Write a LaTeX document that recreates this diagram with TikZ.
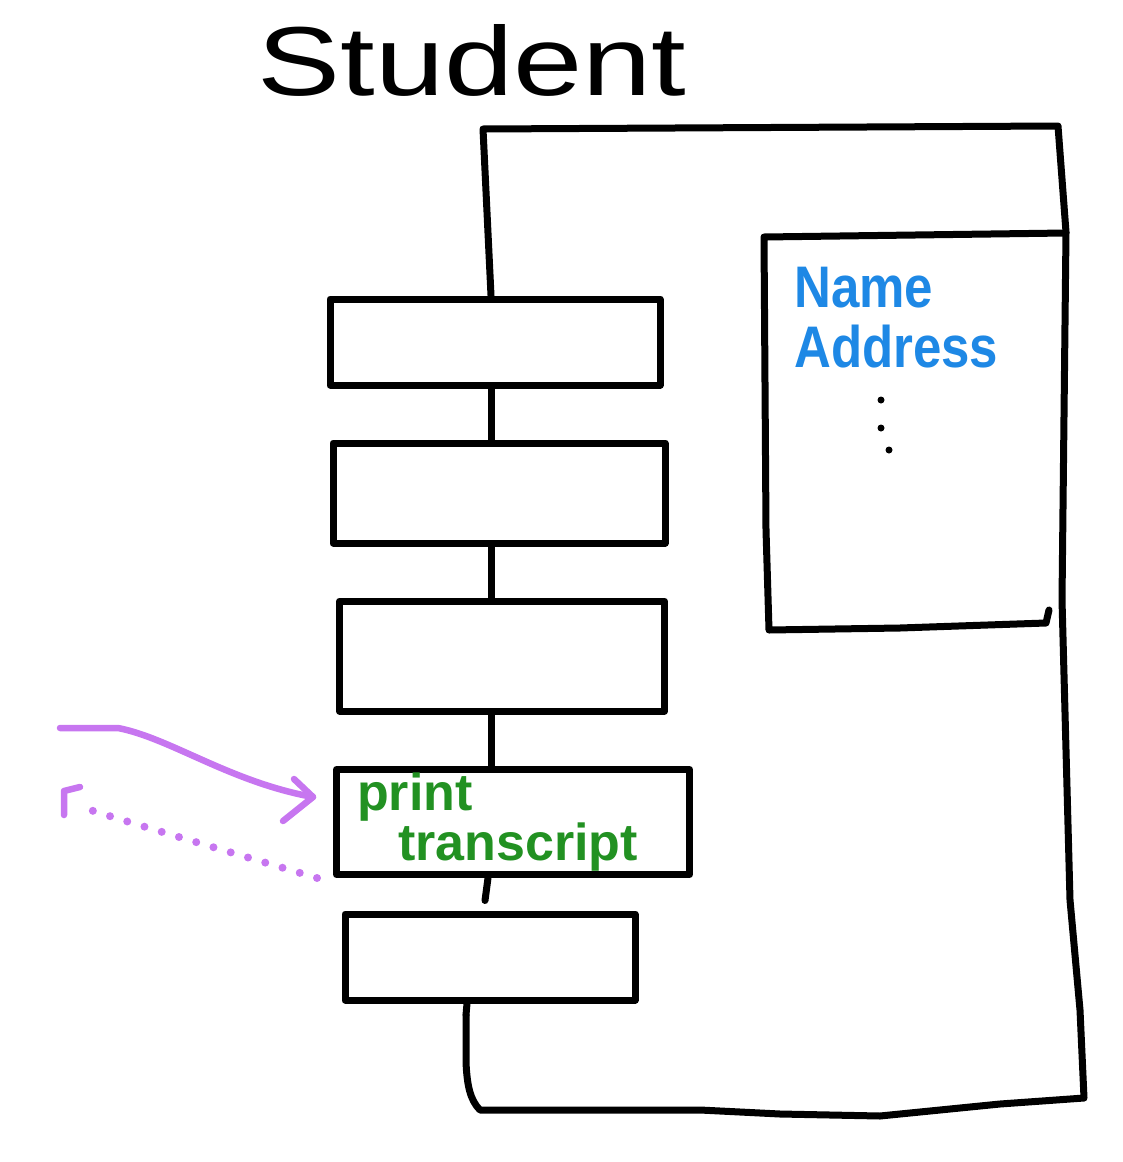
\documentclass[tikz,border=0pt]{standalone}
\usepackage{fontspec}
\setmainfont{Liberation Sans}
\definecolor{inkblue}{RGB}{30,136,229}
\definecolor{inkgreen}{RGB}{34,145,34}
\definecolor{inkpurple}{RGB}{199,118,240}
\tikzset{
  ink/.style={line width=7pt, line cap=round, line join=round, black},
  methodbox/.style={draw, ink, rectangle, inner sep=0pt},
  purpleink/.style={line width=6.5pt, line cap=round, line join=round, inkpurple},
  dotink/.style={purpleink, line width=8pt, dash pattern=on 0pt off 18pt},
}
\begin{document}
\begin{tikzpicture}[x=1pt,y=-1pt]
\useasboundingbox (0,0) rectangle (1122,1162);
% title
\node[xscale=1.27, font=\fontsize{98}{110}\selectfont] (title) at (472,60) {Student};
% method boxes
\node[methodbox, minimum width=330pt, minimum height=86pt] (m1) at (495,342) {};
\node[methodbox, minimum width=332pt, minimum height=100pt] (m2) at (499,493) {};
\node[methodbox, minimum width=325pt, minimum height=110pt] (m3) at (502,656) {};
\node[methodbox, minimum width=353pt, minimum height=105pt] (m4) at (513,822) {};
\node[methodbox, minimum width=290pt, minimum height=86pt] (m5) at (490,957) {};
% label in print transcript box
\node[inkgreen, anchor=base west, inner sep=0pt, align=left,
      font=\bfseries\fontsize{52}{36}\selectfont] (lmethod) at (357,860)
  {print\\\hspace*{41pt}transcript};
% spine
\coordinate (sx) at (491,0);
\draw[ink] (m1.south -| sx) -- (m2.north -| sx);
\draw[ink] (m2.south -| sx) -- (m3.north -| sx);
\draw[ink] (m3.south -| sx) -- (m4.north -| sx);
\draw[ink] ([xshift=-3pt]m4.south -| sx) -- ([xshift=-6pt,yshift=10pt]m5.north -| sx);
% outer object outline
\coordinate (otl) at (483,129);
\coordinate (otr) at (1058,126);
\coordinate (obr) at (1084,1098);
\coordinate (obl) at (480,1110);
\draw[ink] (m1.north -| sx) -- (otl) -- (otr) -- (1066,232) -- (1062,600) -- (1070,900)
  -- (1080,1010) -- (obr) -- (1000,1104) -- (880,1116) -- (780,1114) -- (700,1110) -- (obl)
  .. controls (470,1100) and (467,1085) .. (466,1062) -- (466,1015);
\draw[ink] (466,1015) -- ([xshift=-24pt]m5.south -| sx);
% data compartment
\coordinate (dtl) at (764,237);
\coordinate (dtr) at (1066,233);
\coordinate (dbl) at (769,630);
\coordinate (dbr) at (1046,623);
\draw[ink] (dtr) -- (dtl) -- (766,530) -- (dbl) -- (900,628) -- (dbr) -- (1049,610);
\node[inkblue, anchor=base west, inner sep=0pt, align=left, yscale=1.15,
      font=\bfseries\fontsize{51}{52}\selectfont] (lattr) at (794,367)
  {Name\\Address};
\fill (881,400) circle (3.5pt) (881,428) circle (3.5pt) (889,450) circle (3.5pt);
% incoming message arrow
\coordinate (msgstart) at (60,728);
\coordinate (msgtip) at (313,797);
\draw[purpleink] (msgstart) -- (118,728) .. controls (170,738) and (230,782) .. (msgtip);
\draw[purpleink] (294,779) -- (msgtip) -- (283,821);
% return dotted arrow
\coordinate (rettip) at (64,791);
\draw[dotink] ([xshift=-16pt]m4.south west) .. controls (230,852) and (120,820) .. (78,806);
\draw[purpleink] (64,815) -- (rettip) -- (80,787);
\end{tikzpicture}
\end{document}
